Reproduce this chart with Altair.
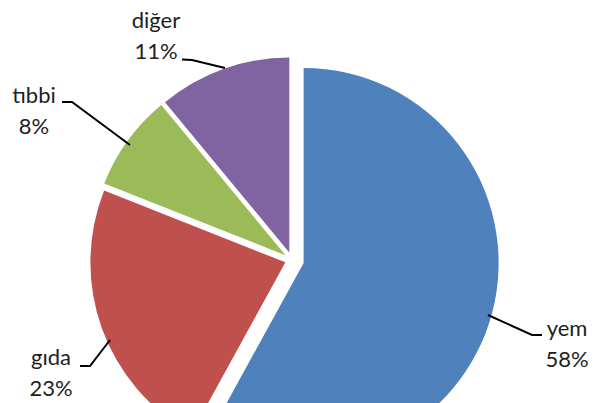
import math
import altair as alt
import pandas as pd

# ---- data ----
categories = ["yem", "gıda", "tıbbi", "diğer"]
values = [58, 23, 8, 11]

# ---- styles / layout ----
colors = ["#4F81BD", "#C0504D", "#9BBB59", "#8064A2"]
explode = [12, 7, 8, 8]          # px each slice is pulled out
center = (284, 252)              # pie centre inside the view
radius = 195
# label anchor (centre x, first baseline y)
label_pos = {"yem": (559, 328), "gıda": (43, 357), "tıbbi": (26, 95), "diğer": (148, 20)}
# leader lines: label end -> elbow -> pie edge
leaders = {
    "yem": [(534, 327), (524, 327), (480, 307)],
    "gıda": [(72, 358), (82, 358), (102, 332)],
    "tıbbi": [(54, 94), (64, 94), (122, 137)],
    "diğer": [(174, 51.5), (184, 52), (217, 60)],
}

total = sum(values)
starts, ends = [], []
acc = 0
for v in values:
    starts.append(acc)
    acc += v
    ends.append(acc)

df = pd.DataFrame({"cat": categories, "value": values, "start": starts, "end": ends})

theta_scale = alt.Scale(domain=[0, total], range=[0, 2 * math.pi])

arcs = []
for i, cat in enumerate(categories):
    mid = (starts[i] + ends[i]) / 2 / total * 2 * math.pi
    dx = explode[i] * math.sin(mid)
    dy = -explode[i] * math.cos(mid)
    arcs.append(
        alt.Chart(df)
        .transform_filter(alt.datum.cat == cat)
        .mark_arc(radius=radius, x=center[0] + dx, y=center[1] + dy, color=colors[i])
        .encode(
            theta=alt.Theta("start:Q", scale=theta_scale),
            theta2="end:Q",
        )
    )

line_rows = []
for cat, pts in leaders.items():
    for k, (px, py) in enumerate(pts):
        line_rows.append({"cat": cat, "k": k, "x": px, "y": py})
lines_df = pd.DataFrame(line_rows)

lines = (
    alt.Chart(lines_df)
    .mark_line(color="#000000", strokeWidth=2)
    .encode(
        x=alt.X("x:Q", scale=None),
        y=alt.Y("y:Q", scale=None),
        detail="cat:N",
        order="k:Q",
    )
)

text_df = pd.DataFrame(
    {
        "label": [f"{c}\n{v}%" for c, v in zip(categories, values)],
        "x": [label_pos[c][0] for c in categories],
        "y": [label_pos[c][1] for c in categories],
    }
)

texts = (
    alt.Chart(text_df)
    .mark_text(
        font="Lato",
        fontSize=22,
        lineBreak="\n",
        lineHeight=31,
        align="center",
        baseline="alphabetic",
        color="#1e1e1e",
    )
    .encode(
        x=alt.X("x:Q", scale=None),
        y=alt.Y("y:Q", scale=None),
        text="label:N",
    )
)

chart = (
    alt.layer(*arcs, lines, texts)
    .properties(width=580, height=395, padding=0, autosize=alt.AutoSizeParams(type="none"))
    .configure_view(stroke=None)
)

chart.save("out.html", embed_options={"renderer": "svg", "actions": False})
